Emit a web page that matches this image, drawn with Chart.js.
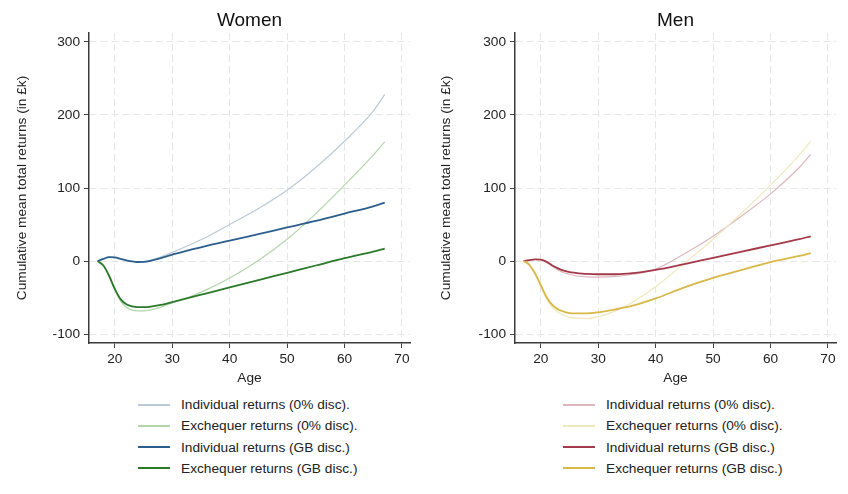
<!DOCTYPE html>
<html>
<head>
<meta charset="utf-8">
<script src="https://cdn.jsdelivr.net/npm/chart.js@4"></script>
<style>
  body { margin: 0; background: #fff; font-family: "Liberation Sans", Arial, sans-serif; }
  #wrap { position: relative; width: 848px; height: 494px; }
  .panel { position: absolute; top: 0; width: 424px; height: 494px; }
  .panel canvas { position: absolute; left: 0; top: 0; }
  .legend { position: absolute; top: 394px; font-size: 13.7px; color: #222; }
  .legend .row { position: relative; height: 21.3px; line-height: 21.3px; white-space: nowrap; }
  .legend .swatch { position: absolute; top: 9.5px; width: 32px; height: 2px; }
  .legend .label { position: absolute; }
</style>
</head>
<body>
<div id="wrap">
  <div class="panel" style="left:0">
    <canvas id="women" width="424" height="390"></canvas>
    <div class="legend" id="womenLegend" style="left:138px"></div>
  </div>
  <div class="panel" style="left:424px">
    <canvas id="men" width="424" height="390"></canvas>
    <div class="legend" id="menLegend" style="left:139px"></div>
  </div>
</div>
<script>
const ages = [17, 18, 19, 20, 21, 22, 23, 24, 25, 26, 28, 30, 33, 36, 40, 45, 50, 55, 60, 65, 67];

// Women (in £k)
const womenIndiv0 = [0, 3, 5.5, 5, 3, 1, -0.5, -1, -0.5, 1, 6, 12, 22, 33, 50, 72, 97, 128, 164, 205, 228];
const womenExch0 = [0, -6, -21, -40, -55, -63, -67, -68, -68, -67, -63, -57, -49, -39, -23, 1, 30, 65, 104, 145, 163];
const womenIndivGB = [0, 3, 5.5, 5, 3, 1, -0.5, -1.2, -1, 0, 4, 9, 15, 21, 28, 37, 46, 55, 65, 75, 80];
const womenExchGB = [0, -6, -20, -38, -52, -59, -62, -63, -63, -62.5, -60, -56, -50, -44, -36, -26, -16, -6, 4, 13, 17];

// Men (in £k)
const menIndiv0 = [0, 1.5, 2.5, 2, -1, -7, -12, -16, -18, -20, -21.5, -22, -21, -18, -11, 10, 34, 62, 92, 128, 146];
const menExch0 = [0, -5, -18, -35, -52, -63, -70, -74, -77, -78, -78.5, -76, -68, -56, -35, -3, 30, 66, 104, 145, 164];
const menIndivGB = [0, 1.5, 2.5, 2, -1, -6, -10, -13, -15, -16, -17.5, -18, -18, -16.5, -12, -4, 4.5, 13, 21.5, 30, 34];
const menExchGB = [0, -5, -17, -33, -49, -60, -66, -69, -71, -71.5, -71.5, -70, -66, -61, -51, -36, -23, -12, -1.5, 7, 11];

const seriesLabels = [
    'Individual returns (0% disc).',
    'Exchequer returns (0% disc).',
    'Individual returns (GB disc.)',
    'Exchequer returns (GB disc.)'
];
const xTicks = [20, 30, 40, 50, 60, 70];
const yTicks = [-100, 0, 100, 200, 300];

const FONT = '"Liberation Sans", Arial, sans-serif';

function toPoints(values) {
    return values.map((v, i) => ({ x: ages[i], y: v }));
}

// draws the panel title centred over the plot area
const panelTitle = {
    id: 'panelTitle',
    afterDraw(chart, args, opts) {
        const { ctx, chartArea } = chart;
        ctx.save();
        ctx.font = '19px ' + FONT;
        ctx.fillStyle = '#111';
        ctx.textAlign = 'center';
        ctx.textBaseline = 'middle';
        ctx.fillText(opts.text, (chartArea.left + chartArea.right) / 2, 21);
        ctx.restore();
    }
};

function makeDataset(label, values, color, width, order) {
    return {
        label: label,
        data: toPoints(values),
        borderColor: color,
        backgroundColor: color,
        borderWidth: width,
        pointRadius: 0,
        cubicInterpolationMode: 'monotone',
        fill: false,
        order: order
    };
}

function createPanel(canvasId, legendId, title, series, colors, axisLeft) {
    const ctx = document.getElementById(canvasId).getContext('2d');
    const widths = [1.2, 1.2, 1.8, 1.8];
    const orders = [3, 2, 1, 0];

    const datasets = series.map((vals, i) =>
        makeDataset(seriesLabels[i], vals, colors[i], widths[i], orders[i]));

    // html legend, one item per row
    const legend = document.getElementById(legendId);
    seriesLabels.forEach((lab, i) => {
        const row = document.createElement('div');
        row.className = 'row';
        row.innerHTML = '<span class="swatch" style="left:0;background:' + colors[i] +
            '"></span><span class="label" style="left:43px">' + lab + '</span>';
        legend.appendChild(row);
    });

    const tickFont = { family: FONT, size: 13.7 };

    return new Chart(ctx, {
        type: 'line',
        data: { datasets: datasets },
        plugins: [panelTitle],
        options: {
            responsive: false,
            animation: false,
            layout: { padding: { left: 0, right: 424 - 410 - (axisLeft - 89), top: 33, bottom: 2 } },
            plugins: {
                legend: { display: false },
                tooltip: { enabled: false },
                panelTitle: { text: title }
            },
            scales: {
                x: {
                    type: 'linear',
                    min: 15.5,
                    max: 71.4,
                    afterBuildTicks: s => { s.ticks = xTicks.map(v => ({ value: v })); },
                    afterFit: s => { s.height = 45; },
                    grid: {
                        color: '#e6e6e6',
                        tickColor: '#444',
                        tickLength: 5,
                        tickBorderDash: []
                    },
                    border: { color: '#3a3a3a', width: 1.5, dash: [7, 4] },
                    ticks: { font: tickFont, color: '#222', padding: 3, maxRotation: 0 },
                    title: {
                        display: true,
                        text: 'Age',
                        font: tickFont,
                        color: '#222',
                        padding: { top: 0, bottom: 2 }
                    }
                },
                y: {
                    type: 'linear',
                    min: -112,
                    max: 312,
                    afterBuildTicks: s => { s.ticks = yTicks.map(v => ({ value: v })); },
                    afterFit: s => { s.width = axisLeft; },
                    grid: {
                        color: '#e6e6e6',
                        tickColor: '#444',
                        tickLength: 5,
                        tickBorderDash: []
                    },
                    border: { color: '#3a3a3a', width: 1.5, dash: [7, 4] },
                    ticks: { font: tickFont, color: '#222', padding: 4 },
                    title: {
                        display: true,
                        text: 'Cumulative mean total returns (in £k)',
                        font: tickFont,
                        color: '#222',
                        padding: { top: 14, bottom: 0 }
                    }
                }
            }
        }
    });
}

createPanel('women', 'womenLegend', 'Women',
    [womenIndiv0, womenExch0, womenIndivGB, womenExchGB],
    ['#bccad8', '#b2d6aa', '#2d5f8e', '#2a7a2a'], 89);

createPanel('men', 'menLegend', 'Men',
    [menIndiv0, menExch0, menIndivGB, menExchGB],
    ['#ddb6be', '#efe8bc', '#a33a4a', '#d9b84a'], 91);
</script>
</body>
</html>
